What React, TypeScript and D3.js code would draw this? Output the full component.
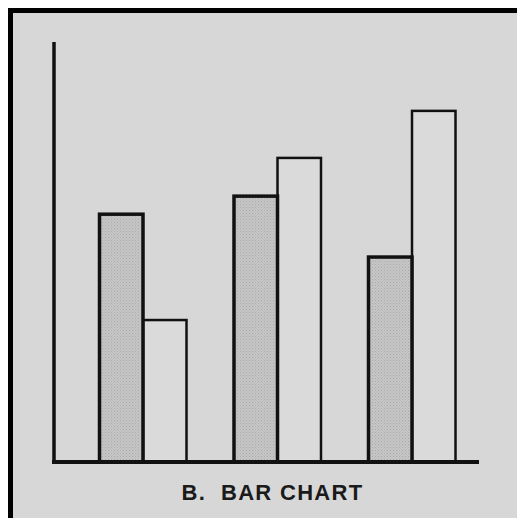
import React from "react";
import * as d3 from "d3";

const groups = ["A", "B", "C"];
const series = ["shaded", "open"];
const shadedValues = [59.0, 63.3, 48.8];
const openValues = [33.8, 72.4, 83.6];
const title = "B.  BAR CHART";

const W = 517;
const H = 518;

export default function App() {
  const y = d3.scaleLinear().domain([0, 100]).range([462, 42]);
  const xJ = d3.scalePoint<string>().domain(groups).range([141.5, 410.5]);
  const sub = d3.scaleBand<string>().domain(series).range([-42, 45]).padding(0);

  const bars = groups.flatMap((g, i) => [
    { g, s: "shaded", v: shadedValues[i] },
    { g, s: "open", v: openValues[i] },
  ]);

  return (
    <svg
      width={W}
      height={H}
      style={{ position: "absolute", left: 0, top: 0, display: "block" }}
    >
      <defs>
        <pattern id="stip" width="3" height="3" patternUnits="userSpaceOnUse">
          <rect width="3" height="3" fill="#c6c6c6" />
          <rect x="0" y="0" width="1" height="1" fill="#a9a9a9" />
          <rect x="1.5" y="1.5" width="1" height="1" fill="#b4b4b4" />
        </pattern>
      </defs>
      <rect x={0} y={0} width={W} height={H} fill="#ffffff" />
      <rect x={8} y={8} width={W - 8} height={H - 8} fill="#000" />
      <rect x={13} y={13} width={W - 13} height={H - 13} fill="#d7d7d7" />
      {bars
        .slice()
        .sort((a, b) => (a.s === "shaded" ? 1 : 0) - (b.s === "shaded" ? 1 : 0))
        .map((d) => {
          const x0 = (xJ(d.g) as number) + (sub(d.s) as number);
          const w = sub.bandwidth();
          const top = y(d.v);
          const shaded = d.s === "shaded";
          return (
            <rect
              key={d.g + d.s}
              x={x0}
              y={top}
              width={w}
              height={y(0) - top}
              fill={shaded ? "url(#stip)" : "#dadada"}
              stroke="#111"
              strokeWidth={shaded ? 3.5 : 2.5}
            />
          );
        })}
      <line x1={54} x2={54} y1={y(100)} y2={y(0) + 2} stroke="#111" strokeWidth={3.5} />
      <line x1={52} x2={479} y1={y(0)} y2={y(0)} stroke="#111" strokeWidth={4} />
      <text
        x={272.5}
        y={500}
        textAnchor="middle"
        fontFamily="'Liberation Sans', Arial, sans-serif"
        fontWeight="bold"
        fontSize={22}
        letterSpacing={1.3}
        fill="#1a1a1a"
        style={{ whiteSpace: "pre" }}
      >
        {title}
      </text>
    </svg>
  );
}
